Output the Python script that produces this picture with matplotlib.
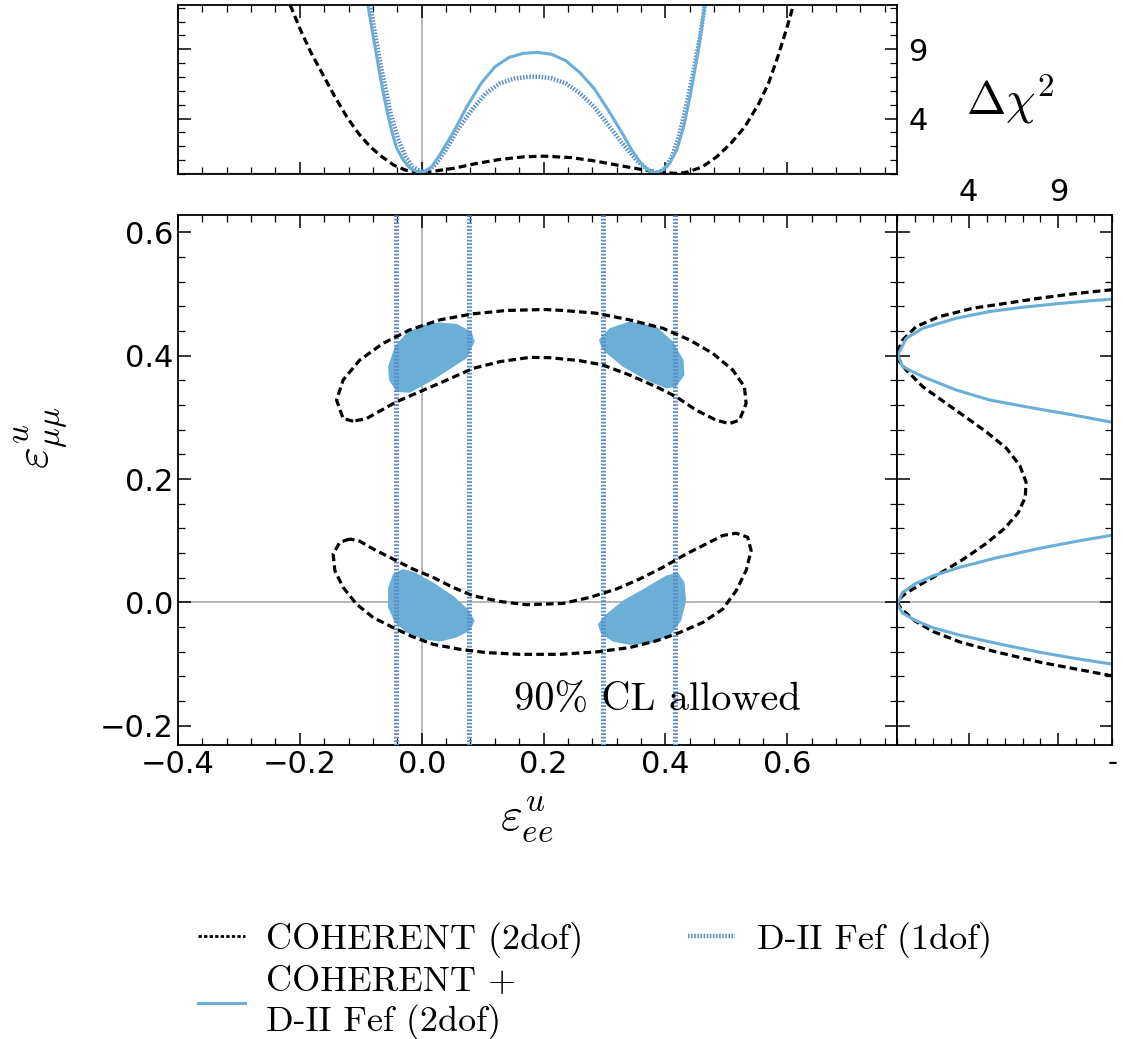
import matplotlib
matplotlib.use('Agg')
import matplotlib.pyplot as plt
from matplotlib.lines import Line2D
from matplotlib.ticker import MultipleLocator, FixedLocator, NullFormatter

plt.rcParams['mathtext.fontset'] = 'cm'

BLUE = '#6baed6'
DII_BLUE = '#5a8fca'
GREY = '#b8b8b8'
DASH = (0, (2.4, 1.3))
DOTS = (0, (0.35, 0.35))

# COHERENT (2dof) 90% CL contours in the (eps_ee, eps_mumu) plane
coh_up_x = [-0.1126, -0.129, -0.1398, -0.129, -0.1016, -0.0634, -0.0197, 0.0295, 0.0841, 0.1389,
            0.2016, 0.2316, 0.2864, 0.341, 0.3956, 0.4393, 0.4775, 0.5103, 0.5295, 0.5323,
            0.5213, 0.5049, 0.4831, 0.4503, 0.4175, 0.3848, 0.341, 0.2972, 0.259, 0.2098,
            0.177, 0.1279, 0.0841, 0.0349, -0.0033, -0.0415, -0.0907]
coh_up_y = [0.2938, 0.298, 0.328, 0.3605, 0.393, 0.42, 0.4418, 0.458, 0.4678, 0.4732,
            0.4748, 0.4732, 0.4688, 0.458, 0.4444, 0.4255, 0.4037, 0.3768, 0.3496, 0.3224,
            0.2954, 0.2899, 0.2954, 0.3117, 0.3333, 0.3496, 0.3686, 0.3849, 0.3919, 0.3967,
            0.3972, 0.3902, 0.3793, 0.3577, 0.3415, 0.3252, 0.298]
coh_lo_x = [-0.118, -0.1344, -0.1454, -0.1426, -0.129, -0.107, -0.0798, -0.047, -0.0143, 0.0185,
            0.0623, 0.1061, 0.1607, 0.2262, 0.2864, 0.341, 0.3848, 0.423, 0.4611, 0.4939,
            0.5159, 0.5323, 0.5405, 0.5349, 0.5159, 0.4939, 0.4667, 0.4339, 0.3956, 0.3574,
            0.3192, 0.2754, 0.2316, 0.1716, 0.1279, 0.0841, 0.0513, 0.0185, -0.0143, -0.047,
            -0.0798, -0.1016]
coh_lo_y = [0.1029, 0.0976, 0.0785, 0.0515, 0.0244, -0.0028, -0.0244, -0.0407, -0.0558, -0.0678,
            -0.0759, -0.0813, -0.0841, -0.0841, -0.0802, -0.0732, -0.0623, -0.0488, -0.0325, -0.0109,
            0.019, 0.0515, 0.0841, 0.1057, 0.1122, 0.1085, 0.0948, 0.0785, 0.0569, 0.0379,
            0.0216, 0.0081, -0.0016, -0.0037, 0.0016, 0.0109, 0.0244, 0.0407, 0.0541, 0.0704,
            0.0867, 0.0992]

# COHERENT + D-II Fef (2dof) allowed islands
isl_ul_x = [0.0021, 0.0295, 0.0569, 0.0815, 0.0869, 0.0733, 0.0185, -0.0197, -0.0415, -0.0536, -0.0552, -0.0443, -0.0251]
isl_ul_y = [0.4499, 0.4537, 0.4515, 0.439, 0.4228, 0.3956, 0.3605, 0.3398, 0.3415, 0.3605, 0.3821, 0.4146, 0.4363]
isl_ur_x = [0.2907, 0.3082, 0.341, 0.3848, 0.412, 0.4295, 0.4311, 0.4175, 0.4011, 0.3684, 0.33, 0.3, 0.2946]
isl_ur_y = [0.4255, 0.4444, 0.4553, 0.4472, 0.4228, 0.393, 0.3686, 0.3496, 0.3468, 0.3605, 0.3821, 0.4065, 0.4146]
isl_ll_x = [-0.0307, -0.0115, 0.0185, 0.0513, 0.0759, 0.0869, 0.0787, 0.0569, 0.0295, 0.0021, -0.0251, -0.0443, -0.0552, -0.0552, -0.047]
isl_ll_y = [0.0541, 0.0488, 0.0325, 0.0109, -0.0109, -0.0298, -0.046, -0.0569, -0.0634, -0.0597, -0.0488, -0.0325, -0.0081, 0.0244, 0.046]
isl_lr_x = [0.289, 0.3028, 0.33, 0.3684, 0.4011, 0.4202, 0.4311, 0.4339, 0.4257, 0.4066, 0.3738, 0.341, 0.3136, 0.2946]
isl_lr_y = [-0.0353, -0.019, 0.0028, 0.0244, 0.0434, 0.0488, 0.0325, 0.0028, -0.0298, -0.0541, -0.0667, -0.0688, -0.0634, -0.0515]

# D-II Fef (1dof) 90% CL bounds on eps_ee
dii_bounds = [-0.043, 0.077, 0.297, 0.416]

# Delta chi^2 profiles versus eps_ee (top panel)
top_coh_x = [-0.216, -0.1966, -0.1811, -0.1618, -0.1425, -0.1231, -0.1038, -0.0844, -0.0651, -0.0457,
             -0.0266, -0.0072, 0.0121, 0.0508, 0.0895, 0.1282, 0.1669, 0.2016, 0.2441, 0.2828,
             0.3215, 0.3602, 0.3911, 0.422, 0.4375, 0.4607, 0.4839, 0.507, 0.5303, 0.5534,
             0.569, 0.5844, 0.5998, 0.61]
top_coh_d = [12.2, 10.16, 8.71, 7.14, 5.58, 4.13, 2.93, 1.96, 1.24, 0.64,
             0.28, 0.16, 0.16, 0.40, 0.76, 1.05, 1.24, 1.29, 1.19, 0.95,
             0.64, 0.33, 0.11, 0.04, 0.16, 0.52, 1.24, 2.20, 3.41, 5.10,
             6.54, 8.47, 10.64, 12.2]
top_comb_x = [-0.0884, -0.0806, -0.0729, -0.0651, -0.0574, -0.0497, -0.042, -0.0303, -0.0188, -0.0072,
              0.0045, 0.016, 0.0276, 0.0508, 0.0741, 0.0973, 0.1204, 0.1436, 0.1668, 0.19,
              0.2133, 0.2364, 0.2597, 0.2828, 0.3061, 0.3292, 0.3448, 0.3602, 0.3718, 0.3833,
              0.3949, 0.4066, 0.4182, 0.4298, 0.4413, 0.453, 0.4646]
top_comb_d = [12.2, 10.16, 8.23, 6.30, 4.61, 3.17, 1.96, 1.0, 0.40, 0.16,
              0.16, 0.52, 1.24, 2.93, 4.86, 6.54, 7.75, 8.42, 8.71, 8.78,
              8.64, 8.18, 7.31, 6.18, 4.61, 2.93, 1.72, 0.76, 0.28, 0.08,
              0.28, 0.76, 1.72, 3.41, 5.82, 8.71, 12.2]
top_dii_x = [-0.0845, -0.0767, -0.069, -0.059, -0.0497, -0.0381, -0.0265, -0.0149, 0.0006, 0.0122,
             0.0238, 0.0392, 0.0586, 0.0818, 0.1049, 0.1282, 0.1513, 0.1746, 0.1939, 0.2133,
             0.2364, 0.2597, 0.2828, 0.3061, 0.3292, 0.3525, 0.3718, 0.3872, 0.3989, 0.4105,
             0.422, 0.4336, 0.4452, 0.4569, 0.4646]
top_dii_d = [12.2, 10.16, 8.23, 6.06, 4.13, 2.45, 1.24, 0.52, 0.16, 0.28,
             0.76, 1.72, 3.17, 4.61, 5.82, 6.54, 6.88, 7.02, 7.02, 6.90,
             6.54, 5.82, 4.86, 3.53, 2.20, 1.0, 0.28, 0.08, 0.40, 1.24,
             2.69, 4.86, 7.27, 9.92, 12.2]

# Delta chi^2 profiles versus eps_mumu (right panel)
right_coh_y = [0.5068, 0.5003, 0.4932, 0.485, 0.4769, 0.4634, 0.4472, 0.4255, 0.41, 0.40,
               0.39, 0.3767, 0.3496, 0.3224, 0.30, 0.276, 0.25, 0.222, 0.195, 0.17,
               0.145, 0.12, 0.095, 0.07, 0.048, 0.03, 0.014, 0.004, -0.005, -0.012,
               -0.03, -0.047, -0.064, -0.08, -0.097, -0.108, -0.119]
right_coh_d = [12.0, 9.84, 7.97, 6.11, 4.24, 2.38, 1.07, 0.32, 0.08, 0.05,
               0.15, 0.51, 1.44, 2.75, 3.85, 5.0, 6.1, 6.85, 7.2, 7.15,
               6.75, 6.0, 4.95, 3.7, 2.45, 1.35, 0.45, 0.05, 0.1, 0.3,
               1.0, 2.0, 3.5, 5.5, 8.0, 10.0, 12.0]
right_comb_up_y = [0.4915, 0.4889, 0.4841, 0.4785, 0.4715, 0.4607, 0.4444, 0.4281, 0.4011, 0.382,
                   0.3659, 0.3442, 0.328, 0.315, 0.304, 0.292]
right_comb_up_d = [12.0, 10.77, 8.91, 7.04, 5.18, 3.31, 1.44, 0.51, 0.04, 0.32,
                   1.44, 3.31, 5.18, 7.6, 9.8, 12.0]
right_comb_lo_y = [0.109, 0.099, 0.088, 0.072, 0.057, 0.043, 0.03, 0.016, -0.003, -0.017,
                   -0.029, -0.041, -0.053, -0.066, -0.081, -0.091, -0.10]
right_comb_lo_d = [12.0, 10.0, 8.0, 5.5, 3.5, 2.0, 1.0, 0.3, 0.02, 0.3,
                   1.0, 2.0, 3.5, 5.5, 8.0, 10.0, 12.0]

XLIM = (-0.4, 0.78)
YLIM = (-0.231, 0.628)
CHI_LIM = (0, 12.2)
CHI_TICKS = [4, 9]


def closed(xs, ys):
  return list(xs) + [xs[0]], list(ys) + [ys[0]]


def style_ticks(ax):
  ax.tick_params(which='both', direction='in', top=True, right=True, labelsize=22)
  ax.tick_params(which='major', length=9, width=1.1)
  ax.tick_params(which='minor', length=5, width=0.9)
  for s in ax.spines.values():
    s.set_linewidth(1.3)


fig = plt.figure(figsize=(11.23, 10.39), dpi=100)
ax = fig.add_axes([0.1585, 0.283, 0.6403, 0.5101])
axt = fig.add_axes([0.1585, 0.8325, 0.6403, 0.1627])
axr = fig.add_axes([0.7988, 0.283, 0.1915, 0.5101])

# main panel
ax.axvline(0, color=GREY, lw=1.4, zorder=0)
ax.axhline(0, color=GREY, lw=1.4, zorder=0)
for xs, ys in [(isl_ul_x, isl_ul_y), (isl_ur_x, isl_ur_y), (isl_ll_x, isl_ll_y), (isl_lr_x, isl_lr_y)]:
  ax.fill(xs, ys, color=BLUE, lw=0, zorder=2)
for x0 in dii_bounds:
  ax.axvline(x0, color=DII_BLUE, lw=3.6, ls=DOTS, zorder=3)
for xs, ys in [(coh_up_x, coh_up_y), (coh_lo_x, coh_lo_y)]:
  cx, cy = closed(xs, ys)
  ax.plot(cx, cy, color='black', lw=2.3, ls=DASH, zorder=4)
ax.text(0.152, -0.16, '90% CL allowed', family='cmr10', fontsize=29, va='center', ha='left')
ax.set_xlim(*XLIM)
ax.set_ylim(*YLIM)
ax.xaxis.set_major_locator(MultipleLocator(0.2))
ax.xaxis.set_minor_locator(MultipleLocator(0.04))
ax.yaxis.set_major_locator(MultipleLocator(0.2))
ax.yaxis.set_minor_locator(MultipleLocator(0.04))
style_ticks(ax)
ax.set_xlabel(r'$\varepsilon^u_{ee}$', fontsize=34)
ax.xaxis.set_label_coords(0.485, -0.095)
ax.set_ylabel(r'$\varepsilon^u_{\mu\mu}$', fontsize=34)
ax.yaxis.set_label_coords(-0.15, 0.58)

# top panel: Delta chi^2 vs eps_ee
axt.axvline(0, color=GREY, lw=1.4, zorder=0)
axt.axhline(0, color=GREY, lw=2.5, zorder=0)
axt.plot(top_coh_x, top_coh_d, color='black', lw=2.3, ls=DASH)
axt.plot(top_dii_x, top_dii_d, color=DII_BLUE, lw=3.2, ls=DOTS)
axt.plot(top_comb_x, top_comb_d, color=BLUE, lw=2.2)
axt.set_xlim(*XLIM)
axt.set_ylim(*CHI_LIM)
axt.xaxis.set_major_locator(MultipleLocator(0.2))
axt.xaxis.set_minor_locator(MultipleLocator(0.04))
axt.yaxis.set_major_locator(FixedLocator(CHI_TICKS))
axt.yaxis.set_minor_locator(MultipleLocator(1))
style_ticks(axt)
axt.tick_params(labelbottom=False, labelleft=False, labelright=True)
axt.tick_params(axis='y', pad=8)
axt.xaxis.set_major_formatter(NullFormatter())

# right panel: Delta chi^2 vs eps_mumu
axr.axhline(0, color=GREY, lw=1.4, zorder=0)
axr.plot(right_coh_d, right_coh_y, color='black', lw=2.3, ls=DASH)
axr.plot(right_comb_up_d, right_comb_up_y, color=BLUE, lw=2.2)
axr.plot(right_comb_lo_d, right_comb_lo_y, color=BLUE, lw=2.2)
axr.set_xlim(0, 12)
axr.set_ylim(*YLIM)
axr.xaxis.set_major_locator(FixedLocator(CHI_TICKS))
axr.xaxis.set_minor_locator(MultipleLocator(1))
axr.yaxis.set_major_locator(MultipleLocator(0.2))
axr.yaxis.set_minor_locator(MultipleLocator(0.04))
style_ticks(axr)
axr.tick_params(labelbottom=False, labelleft=False, labeltop=True)
axr.tick_params(axis='x', pad=6)

fig.text(0.9, 0.904, r'$\Delta\chi^2$', fontsize=34, ha='center', va='center')
fig.text(0.991, 0.266, '-', fontsize=20, ha='center', va='center')

handles = [
  Line2D([], [], color='black', lw=2.0, ls=(0, (1.2, 0.8))),
  Line2D([], [], color=BLUE, lw=2.2),
  Line2D([], [], color=DII_BLUE, lw=3.2, ls=DOTS),
]
labels = ['COHERENT (2dof)', 'COHERENT +\nD-II Fef (2dof)', 'D-II Fef (1dof)']
fig.legend(handles, labels, ncol=2, loc='upper left', bbox_to_anchor=(0.176, 0.113),
           frameon=False, prop={'family': 'cmr10', 'size': 26}, handlelength=1.3,
           handletextpad=0.6, columnspacing=2.9, borderpad=0, borderaxespad=0,
           labelspacing=0.25)

fig.savefig('out.png', dpi=100)
